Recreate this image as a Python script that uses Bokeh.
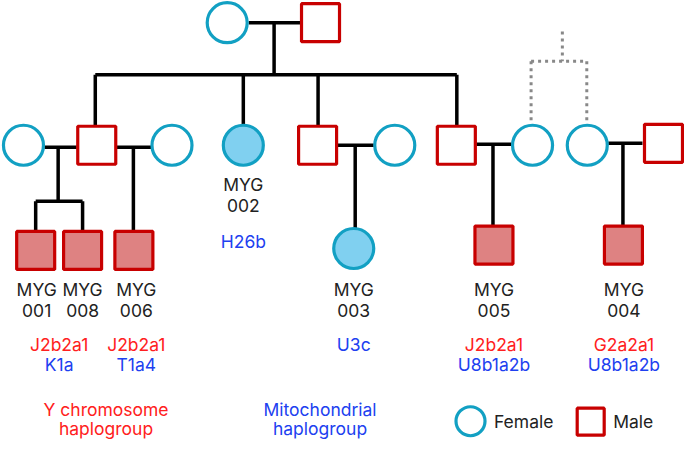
from bokeh.plotting import figure
from bokeh.models import Range1d
from bokeh.core.properties import value
from bokeh.embed import file_html
from bokeh.resources import INLINE

FONT = "Inter"
FS = "17.5px"
F_STROKE = "#12a0c3"
F_FILL = "#80d0f0"
M_STROKE = "#c80000"
M_FILL = "#de8282"
RED = "#ff2020"
BLUE = "#2040f0"

# individuals: x, y, sampled
fem_x = [232, 23.5, 175.5, 248.5, 403.5, 544.5, 600.5, 361.5]
fem_y = [23, 150, 150, 150, 150, 150, 150, 257]
fem_filled = [False, False, False, True, False, False, False, True]
mal_x = [327.5, 98.5, 324.5, 466.5, 678.5, 36, 84, 136.5, 505, 637.5]
mal_y = [23, 150, 150, 150, 148, 259, 259, 259, 253.5, 253.5]
mal_filled = [False, False, False, False, False, True, True, True, True, True]

# pedigree connecting lines (solid)
seg_x = [[254, 307], [280, 280], [97, 467], [97, 97], [248.5, 248.5], [325, 325], [467, 467],
         [45, 78], [59, 59], [36, 84], [36, 36], [84, 84], [119, 154], [136, 136],
         [345, 382], [363, 363], [487, 523], [504, 504], [622, 657], [637, 637]]
seg_y = [[23, 23], [23, 77], [77, 77], [77, 129], [77, 129], [77, 129], [77, 129],
         [152, 152], [152, 208], [208, 208], [208, 239], [208, 239], [152, 152], [152, 239],
         [150, 150], [150, 236], [149, 149], [149, 233], [148, 148], [148, 233]]
# dotted (uncertain) relationship
dot_x = [[575, 575], [543, 600], [543, 543], [600, 600]]
dot_y = [[32, 63], [63, 63], [63, 126], [63, 126]]

# labels
id_x = [37, 84, 139, 248.5, 361.5, 505, 638]
id_num = ["001", "008", "006", "002", "003", "005", "004"]
id_lab_y = [300, 300, 300, 191, 300, 300, 300]
y_hap = ["J2b2a1", "J2b2a1", "J2b2a1", "G2a2a1"]
y_hap_x = [60, 139, 505, 638]
mt_hap = ["K1a", "T1a4", "U8b1a2b", "U8b1a2b", "H26b", "U3c"]
mt_hap_x = [60, 139, 505, 638, 248.5, 361.5]
mt_hap_y = [377, 377, 377, 377, 250, 356]

p = figure(width=684, height=441, output_backend="svg", toolbar_location=None,
           x_range=Range1d(0, 700), y_range=Range1d(457, 0), min_border=0)
p.axis.visible = False
p.grid.visible = False
p.outline_line_color = None
p.background_fill_color = "white"

p.multi_line(seg_x, seg_y, line_color="black", line_width=3.5)
p.multi_line(dot_x, dot_y, line_color="#888888", line_width=3, line_dash="3 4")

p.scatter(fem_x, fem_y, marker="circle", size=40, line_color=F_STROKE, line_width=3.2,
          fill_color=[F_FILL if f else "white" for f in fem_filled])
p.scatter(mal_x, mal_y, marker="square", size=38, line_color=M_STROKE, line_width=3.2,
          fill_color=[M_FILL if f else "white" for f in mal_filled])

kw = dict(text_align="center", text_baseline="middle", text_font=value(FONT), text_font_size=FS)
p.text(id_x, id_lab_y, text=["MYG"] * len(id_x), text_color="#222222", **kw)
p.text(id_x, [v + 21 for v in id_lab_y], text=id_num, text_color="#222222", **kw)
p.text(y_hap_x, [356] * len(y_hap_x), text=y_hap, text_color=RED, **kw)
p.text(mt_hap_x, mt_hap_y, text=mt_hap, text_color=BLUE, **kw)

p.text([108, 108], [424, 444], text=["Y chromosome", "haplogroup"], text_color=RED, **kw)
p.text([327, 327], [424, 444], text=["Mitochondrial", "haplogroup"], text_color=BLUE, **kw)

# legend
p.scatter([481], [436], marker="circle", size=29, line_color=F_STROKE, line_width=3.2, fill_color="white")
p.scatter([604], [436.5], marker="square", size=27, line_color=M_STROKE, line_width=3.2, fill_color="white")
p.text([505, 627], [436, 436], text=["Female", "Male"], text_color="#222222",
       text_align="left", text_baseline="middle", text_font=value(FONT), text_font_size=FS)

open("out.html", "w").write(file_html(p, INLINE))
